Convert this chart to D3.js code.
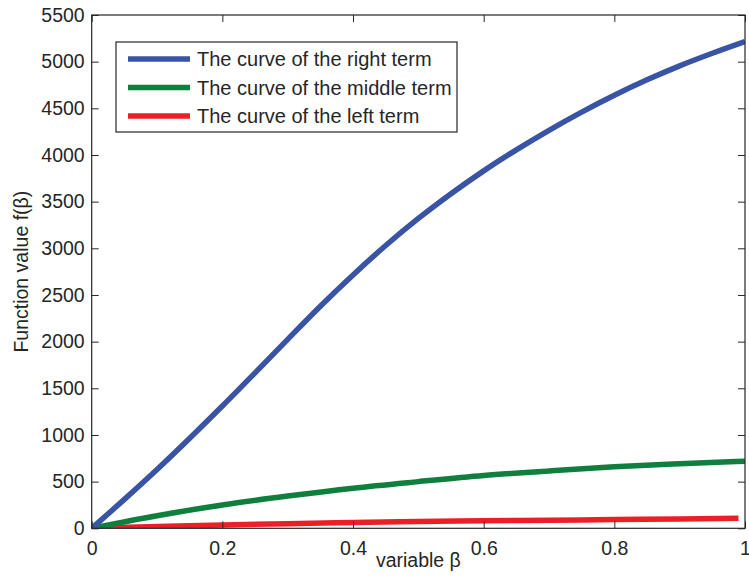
<!DOCTYPE html>
<html>
<head>
<meta charset="utf-8">
<script src="https://cdn.jsdelivr.net/npm/d3@7/dist/d3.min.js"></script>
<style>
  html, body { margin: 0; padding: 0; background: #fff; }
  svg { display: block; }
  text { font-family: "Liberation Sans", Arial, Helvetica, sans-serif; fill: #262626; }
</style>
</head>
<body>
<svg id="chart" width="749" height="584"></svg>
<script>
// β values for each curve
const betaMain = [0, 0.05, 0.1, 0.15, 0.2, 0.25, 0.3, 0.35, 0.4, 0.45, 0.5, 0.55, 0.6, 0.65, 0.7, 0.75, 0.8, 0.85, 0.9, 0.95, 1.0];
const rightTerm = [0, 310, 630, 965, 1310, 1665, 2025, 2380, 2715, 3030, 3320, 3585, 3830, 4055, 4265, 4460, 4640, 4805, 4955, 5090, 5215];

const betaMiddle = [0, 0.1, 0.2, 0.3, 0.4, 0.5, 0.6, 0.7, 0.8, 0.9, 1.0];
const middleTerm = [0, 135, 250, 345, 430, 500, 565, 615, 660, 692, 718];

const betaLeft = [0, 0.1, 0.2, 0.3, 0.4, 0.5, 0.6, 0.7, 0.8, 0.9, 0.99];
const leftTerm = [0, 18, 35, 50, 62, 72, 80, 87, 93, 100, 107];

const xTicks = [0, 0.2, 0.4, 0.6, 0.8, 1];
const yTicks = [0, 500, 1000, 1500, 2000, 2500, 3000, 3500, 4000, 4500, 5000, 5500];

const seriesNames = ["The curve of the right term", "The curve of the middle term", "The curve of the left term"];
const seriesColors = ["#3953a5", "#0f7f3e", "#ed1f26"];

const plotL = 91.7, plotR = 745, plotT = 15, plotB = 528.3;
const x = d3.scaleLinear().domain([0, 1]).range([plotL, plotR]);
const y = d3.scaleLinear().domain([0, 5500]).range([plotB, plotT]);

const svg = d3.select("#chart");

svg.append("defs").append("clipPath").attr("id", "plotClip")
  .append("rect").attr("x", plotL).attr("y", plotT).attr("width", plotR - plotL).attr("height", plotB - plotT);

const series = [
  { xs: betaMain, ys: rightTerm },
  { xs: betaMiddle, ys: middleTerm },
  { xs: betaLeft, ys: leftTerm }
];

const line = d3.line().x(d => x(d[0])).y(d => y(d[1])).curve(d3.curveMonotoneX);

const plot = svg.append("g").attr("clip-path", "url(#plotClip)");
// draw left term first so the right term sits on top
[2, 1, 0].forEach(i => {
  const s = series[i];
  plot.append("path")
    .datum(s.xs.map((b, k) => [b, s.ys[k]]))
    .attr("fill", "none")
    .attr("stroke", seriesColors[i])
    .attr("stroke-width", 5.5)
    .attr("d", line);
});

// axes with inward ticks on all four sides
const tickLen = 7;
const fs = "19.5px";
const axisStyle = g => {
  g.select(".domain").remove();
  g.selectAll(".tick line").attr("stroke", "#262626").attr("stroke-width", 1);
  g.selectAll(".tick text").style("font-size", fs).attr("fill", "#262626");
};

svg.append("g").attr("transform", `translate(0,${plotB})`)
  .call(d3.axisBottom(x).tickValues(xTicks).tickFormat(d3.format("")).tickSizeInner(-tickLen).tickSizeOuter(0).tickPadding(13))
  .call(axisStyle);
svg.append("g").attr("transform", `translate(0,${plotT})`)
  .call(d3.axisTop(x).tickValues(xTicks).tickFormat("").tickSizeInner(-tickLen).tickSizeOuter(0))
  .call(axisStyle);
svg.append("g").attr("transform", `translate(${plotL},0)`)
  .call(d3.axisLeft(y).tickValues(yTicks).tickFormat(d3.format("d")).tickSizeInner(-tickLen).tickSizeOuter(0).tickPadding(7))
  .call(axisStyle);
svg.append("g").attr("transform", `translate(${plotR},0)`)
  .call(d3.axisRight(y).tickValues(yTicks).tickFormat("").tickSizeInner(-tickLen).tickSizeOuter(0))
  .call(axisStyle);

// plot frame
svg.append("rect")
  .attr("x", plotL).attr("y", plotT).attr("width", plotR - plotL).attr("height", plotB - plotT)
  .attr("fill", "none").attr("stroke", "#262626").attr("stroke-width", 1.2);

// axis titles
svg.append("text")
  .attr("x", (plotL + plotR) / 2).attr("y", 567)
  .attr("text-anchor", "middle").style("font-size", fs)
  .text("variable β");
svg.append("text")
  .attr("transform", `translate(28,${(plotT + plotB) / 2}) rotate(-90)`)
  .attr("text-anchor", "middle").style("font-size", fs)
  .text("Function value f(β)");

// legend
const lg = svg.append("g");
lg.append("rect")
  .attr("x", 116).attr("y", 42).attr("width", 341).attr("height", 90)
  .attr("fill", "#fff").attr("stroke", "#262626").attr("stroke-width", 1.2);
const rowY = [59, 87.5, 116];
seriesNames.forEach((name, i) => {
  lg.append("line")
    .attr("x1", 128).attr("x2", 190).attr("y1", rowY[i]).attr("y2", rowY[i])
    .attr("stroke", seriesColors[i]).attr("stroke-width", 5.5);
  lg.append("text")
    .attr("x", 197).attr("y", rowY[i]).attr("dy", "0.36em")
    .style("font-size", "20px")
    .text(name);
});
</script>
</body>
</html>
